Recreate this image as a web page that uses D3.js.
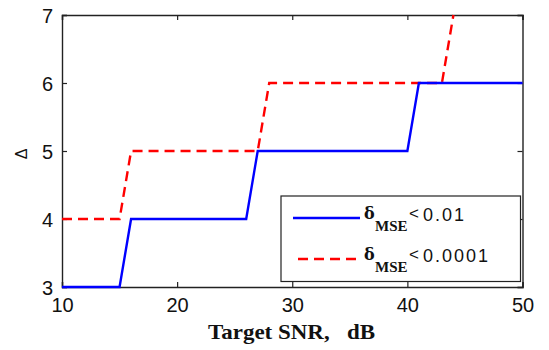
<!DOCTYPE html>
<html>
<head>
<meta charset="utf-8">
<script src="https://cdn.jsdelivr.net/npm/d3@7"></script>
<style>
  html, body { margin: 0; padding: 0; background: #fff; }
  svg { display: block; }
</style>
</head>
<body>
<svg id="chart" width="549" height="350"></svg>
<script>
// ---- data ----
const snrBlue = [10,11,12,13,14,15,16,17,18,19,20,21,22,23,24,25,26,27,28,29,30,31,32,33,34,35,36,37,38,39,40,41,42,43,44,45,46,47,48,49,50];
const deltaBlue = [3,3,3,3,3,3,4,4,4,4,4,4,4,4,4,4,4,5,5,5,5,5,5,5,5,5,5,5,5,5,5,6,6,6,6,6,6,6,6,6,6];
const snrRed = [10,11,12,13,14,15,16,17,18,19,20,21,22,23,24,25,26,27,28,29,30,31,32,33,34,35,36,37,38,39,40,41,42,43,44];
const deltaRed = [4,4,4,4,4,4,5,5,5,5,5,5,5,5,5,5,5,5,6,6,6,6,6,6,6,6,6,6,6,6,6,6,6,6,7];
const xTicks = [10,20,30,40,50];
const yTicks = [3,4,5,6,7];
const legendLabels = ["0.01", "0.0001"];
const xTitle = "Target SNR,   dB";
const yTitle = "\u0394";

// ---- layout ----
const L = 62, R = 522.5, T = 15, B = 287;
const svg = d3.select("#chart");
const x = d3.scaleLinear().domain([10, 50]).range([L, R]);
const y = d3.scaleLinear().domain([3, 7]).range([B, T]);

const sans = "'Liberation Sans', Arial, sans-serif";
const serif = "'Liberation Serif', 'Times New Roman', serif";

// axes
const gx = svg.append("g").attr("transform", `translate(0,${B})`)
  .call(d3.axisBottom(x).tickValues(xTicks).tickSize(-5).tickPadding(11).tickFormat(d3.format("d")));
const gxTop = svg.append("g").attr("transform", `translate(0,${T})`)
  .call(d3.axisTop(x).tickValues(xTicks).tickSize(-5).tickFormat(""));
const gy = svg.append("g").attr("transform", `translate(${L},0)`)
  .call(d3.axisLeft(y).tickValues(yTicks).tickSize(-5).tickPadding(9).tickFormat(d3.format("d")));
const gyR = svg.append("g").attr("transform", `translate(${R},0)`)
  .call(d3.axisRight(y).tickValues(yTicks).tickSize(-5).tickFormat(""));

[gx, gxTop, gy, gyR].forEach(g => {
  g.selectAll("path.domain").attr("stroke", "#222").attr("stroke-width", 1.4);
  g.selectAll(".tick line").attr("stroke", "#222").attr("stroke-width", 1.2);
  g.selectAll(".tick text").attr("font-family", sans).attr("font-size", 20).attr("fill", "#111");
});
gx.selectAll(".tick text").attr("dy", "0.71em");
gy.selectAll(".tick text").attr("dy", "0.36em");

// lines
const line = d3.line().x(d => x(d[0])).y(d => y(d[1]));
const blueData = snrBlue.map((s, i) => [s, deltaBlue[i]]);
const redData = snrRed.map((s, i) => [s, deltaRed[i]]);

svg.append("path").datum(redData).attr("d", line)
  .attr("fill", "none").attr("stroke", "#ff0000").attr("stroke-width", 2.4)
  .attr("stroke-dasharray", "10,6");
svg.append("path").datum(blueData).attr("d", line)
  .attr("fill", "none").attr("stroke", "#0000ff").attr("stroke-width", 2.4);

// titles
svg.append("text").attr("x", 208).attr("y", 339)
  .attr("font-family", serif).attr("font-weight", "bold").attr("font-size", 21)
  .attr("textLength", 167).attr("lengthAdjust", "spacingAndGlyphs")
  .attr("fill", "#111").attr("xml:space", "preserve").style("white-space", "pre").text(xTitle);
svg.append("text").attr("transform", "translate(26.5,154) rotate(-90)").attr("text-anchor", "middle")
  .attr("font-family", sans).attr("font-size", 16).attr("fill", "#111").text(yTitle);

// legend
const lg = svg.append("g");
lg.append("rect").attr("x", 281).attr("y", 196).attr("width", 239.5).attr("height", 85.5)
  .attr("fill", "#fff").attr("stroke", "#222").attr("stroke-width", 1.2);
const rows = [
  { color: "#0000ff", dash: null, y: 218, label: legendLabels[0] },
  { color: "#ff0000", dash: "10,6", y: 259, label: legendLabels[1] }
];
rows.forEach(r => {
  lg.append("line").attr("x1", r.dash ? 298 : 293).attr("x2", 360).attr("y1", r.y).attr("y2", r.y)
    .attr("stroke", r.color).attr("stroke-width", 2.4).attr("stroke-dasharray", r.dash);
  const t = lg.append("text").attr("fill", "#111");
  t.append("tspan").attr("x", 364).attr("y", r.y + 0.5)
    .attr("font-family", "'DejaVu Serif', serif").attr("font-weight", "bold").attr("font-size", 16)
    .text("\u03b4");
  t.append("tspan").attr("x", 375).attr("y", r.y + 13)
    .attr("font-family", serif).attr("font-weight", "bold").attr("font-size", 15)
    .text("MSE");
  t.append("tspan").attr("x", 409).attr("y", r.y + 0.5)
    .attr("font-family", sans).attr("font-size", 17).text("<");
  t.append("tspan").attr("x", 423).attr("y", r.y + 3)
    .attr("font-family", sans).attr("font-size", 18).attr("letter-spacing", 2).text(r.label);
});
</script>
</body>
</html>
